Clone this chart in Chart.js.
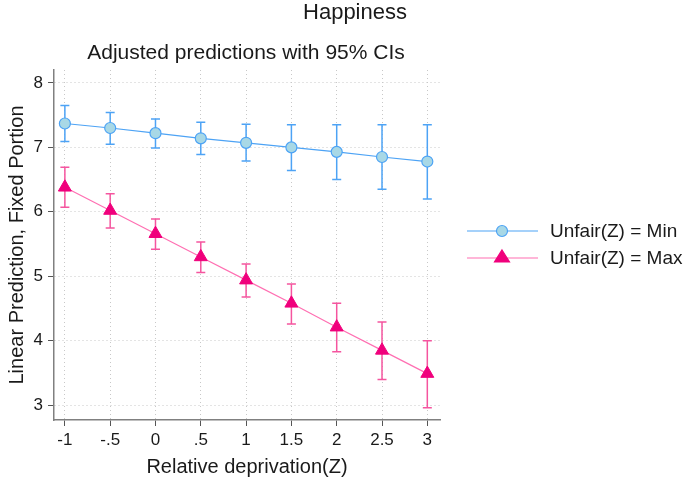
<!DOCTYPE html>
<html>
<head>
<meta charset="utf-8">
<script src="https://cdn.jsdelivr.net/npm/chart.js@4.4.1/dist/chart.umd.min.js"></script>
<style>
  body { margin: 0; background: #fff; }
  #wrap { position: relative; width: 685px; height: 481px; font-family: "Liberation Sans", Arial, sans-serif; color: #1a1a1a; }
  .ttl { position: absolute; white-space: nowrap; transform: translateX(-50%); font-size: 21px; line-height: 24px; }
  #main { left: 355px; top: 0px; font-size: 22px; }
  #sub { left: 246px; top: 40px; }
  canvas { position: absolute; left: 0; top: 0; }
</style>
</head>
<body>
<div id="wrap">
  <canvas id="chart" width="685" height="481"></canvas>
  <div class="ttl" id="main">Happiness</div>
  <div class="ttl" id="sub">Adjusted predictions with 95% CIs</div>
</div>
<script>
// values
const xVals = [-1, -0.5, 0, 0.5, 1, 1.5, 2, 2.5, 3];
const xTickLabels = ['-1', '-.5', '0', '.5', '1', '1.5', '2', '2.5', '3'];
const yTicks = [3, 4, 5, 6, 7, 8];

const minPred = [7.37, 7.30, 7.22, 7.14, 7.07, 7.00, 6.93, 6.85, 6.78];
const minLo   = [7.09, 7.05, 6.99, 6.89, 6.79, 6.64, 6.50, 6.35, 6.20];
const minHi   = [7.65, 7.54, 7.44, 7.39, 7.36, 7.35, 7.35, 7.35, 7.35];

const maxPred = [6.38, 6.02, 5.66, 5.30, 4.94, 4.58, 4.21, 3.85, 3.49];
const maxLo   = [6.07, 5.75, 5.42, 5.06, 4.68, 4.26, 3.83, 3.40, 2.96];
const maxHi   = [6.69, 6.28, 5.89, 5.53, 5.19, 4.88, 4.58, 4.29, 4.00];

const seriesNames = ['Unfair(Z) = Min', 'Unfair(Z) = Max'];

const blueLine = '#4da3f5';
const blueFill = '#a8d8e6';
const pinkLine = '#ff6fb2';
const pinkMark = '#f0007c';
const FONT = '"Liberation Sans", Arial, sans-serif';

const toPts = (ys) => xVals.map((x, i) => ({ x: x, y: ys[i] }));

// error bars, drawn under the lines and markers
const errorBars = {
    id: 'errorBars',
    beforeDatasetsDraw(chart) {
        const ctx = chart.ctx;
        const xs = chart.scales.x, ys = chart.scales.y;
        chart.data.datasets.forEach((ds) => {
            ctx.save();
            ctx.strokeStyle = ds.barColor;
            ctx.lineWidth = 1.5;
            xVals.forEach((x, i) => {
                const px = xs.getPixelForValue(x);
                const top = ys.getPixelForValue(ds.hi[i]);
                const bot = ys.getPixelForValue(ds.lo[i]);
                ctx.beginPath();
                ctx.moveTo(px, top); ctx.lineTo(px, bot);
                ctx.moveTo(px - 4.5, top); ctx.lineTo(px + 4.5, top);
                ctx.moveTo(px - 4.5, bot); ctx.lineTo(px + 4.5, bot);
                ctx.stroke();
            });
            ctx.restore();
        });
    }
};

// legend at the right: line with marker in the middle, then text
const sideLegend = {
    id: 'sideLegend',
    afterDraw(chart) {
        const ctx = chart.ctx;
        const x0 = chart.chartArea.right + 27;
        const rows = [231, 258];
        chart.data.datasets.forEach((ds, i) => {
            const y = rows[i];
            ctx.save();
            ctx.strokeStyle = ds.borderColor;
            ctx.lineWidth = 1.2;
            ctx.beginPath();
            ctx.moveTo(x0, y); ctx.lineTo(x0 + 71, y);
            ctx.stroke();
            ctx.fillStyle = ds.pointBackgroundColor;
            ctx.strokeStyle = ds.pointBorderColor;
            ctx.beginPath();
            if (ds.pointStyle === 'circle') {
                ctx.arc(x0 + 35, y, 5.5, 0, Math.PI * 2);
            } else {
                ctx.moveTo(x0 + 35, y - 8);
                ctx.lineTo(x0 + 42.5, y + 4);
                ctx.lineTo(x0 + 27.5, y + 4);
                ctx.closePath();
            }
            ctx.fill();
            ctx.stroke();
            ctx.fillStyle = '#1a1a1a';
            ctx.font = '19px ' + FONT;
            ctx.textBaseline = 'middle';
            ctx.fillText(seriesNames[i], x0 + 83, y + 1);
            ctx.restore();
        });
    }
};

new Chart(document.getElementById('chart'), {
    type: 'line',
    data: {
        datasets: [
            {
                label: seriesNames[0],
                data: toPts(minPred),
                lo: minLo, hi: minHi,
                barColor: blueLine,
                borderColor: blueLine,
                borderWidth: 1.2,
                pointStyle: 'circle',
                pointRadius: 5.5,
                pointBackgroundColor: blueFill,
                pointBorderColor: blueLine,
                pointBorderWidth: 1.2,
                tension: 0
            },
            {
                label: seriesNames[1],
                data: toPts(maxPred),
                lo: maxLo, hi: maxHi,
                barColor: '#f5559f',
                borderColor: pinkLine,
                borderWidth: 1.2,
                pointStyle: 'triangle',
                pointRadius: 7.5,
                pointBackgroundColor: pinkMark,
                pointBorderColor: pinkMark,
                pointBorderWidth: 1,
                tension: 0
            }
        ]
    },
    options: {
        responsive: false,
        animation: false,
        devicePixelRatio: 1,
        layout: { padding: { top: 70, right: 245, left: 0, bottom: 0 } },
        plugins: {
            legend: { display: false },
            tooltip: { enabled: false }
        },
        scales: {
            x: {
                type: 'linear',
                min: -1.12,
                max: 3.14,
                afterFit(scale) { scale.height = 61; },
                afterBuildTicks(scale) { scale.ticks = xVals.map(v => ({ value: v })); },
                ticks: {
                    padding: 4,
                    color: '#1a1a1a',
                    font: { family: FONT, size: 17 },
                    maxRotation: 0,
                    callback: (v, i) => xTickLabels[i]
                },
                grid: { color: '#c8c8c8', tickColor: '#555', tickLength: 6, lineWidth: 1 },
                border: { color: '#808080', width: 1.5, dash: [1, 3] },
                title: {
                    display: true,
                    text: 'Relative deprivation(Z)',
                    color: '#1a1a1a',
                    font: { family: FONT, size: 20 },
                    padding: { top: 0, bottom: 2 }
                }
            },
            y: {
                min: 2.77,
                max: 8.2,
                afterFit(scale) { scale.width = 54; },
                afterBuildTicks(scale) { scale.ticks = yTicks.map(v => ({ value: v })); },
                ticks: {
                    padding: 5,
                    color: '#1a1a1a',
                    font: { family: FONT, size: 17 }
                },
                grid: { color: '#c8c8c8', tickColor: '#555', tickLength: 6, lineWidth: 1 },
                border: { color: '#808080', width: 1.5, dash: [1, 3] },
                title: {
                    display: true,
                    text: 'Linear Prediction, Fixed Portion',
                    color: '#1a1a1a',
                    font: { family: FONT, size: 20 },
                    padding: { top: 5, bottom: 0 }
                }
            }
        }
    },
    plugins: [errorBars, sideLegend]
});
</script>
</body>
</html>
